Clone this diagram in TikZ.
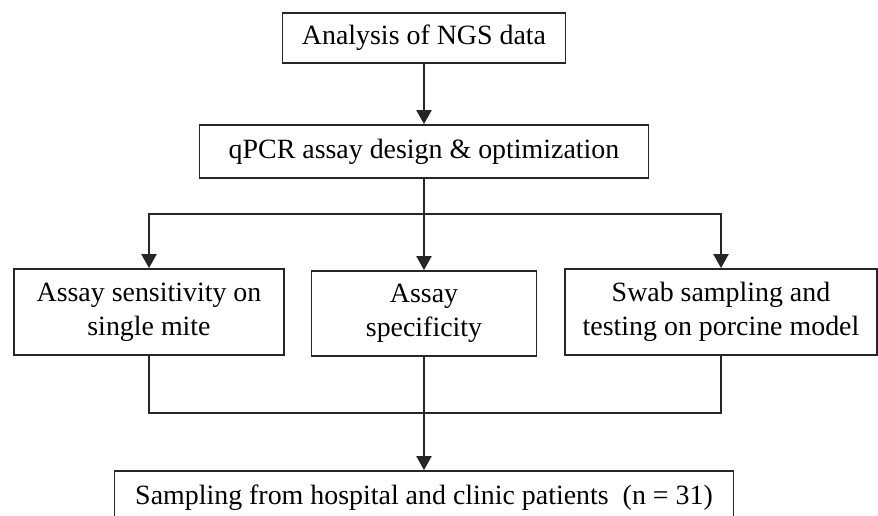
\documentclass[tikz,border=0pt]{standalone}
\usepackage{fontspec}
\setmainfont{Liberation Serif}
\usetikzlibrary{arrows.meta,positioning}

\begin{document}
\begin{tikzpicture}[x=1pt,y=1pt,
	box/.style={draw=black!85, line width=1.8pt, inner sep=0pt, align=center,
		font=\fontsize{27.9}{34}\selectfont},
	arr/.style={-{Triangle[width=15pt,length=14pt]}, line width=2.2pt, draw=black!85},
	wire/.style={line width=2.2pt, draw=black!85}]

	\useasboundingbox (0,0) rectangle (878,-515);
	\clip (0,0) rectangle (878,-515);

	\node[box, minimum width=283, minimum height=50] (ngs) at (424,-38) {Analysis of NGS data};
	\node[box, minimum width=449, minimum height=53] (design) at (424,-151.5) {qPCR assay design \& optimization};

	\node[box, minimum width=270, minimum height=86] (sens) at (149,-312) {Assay sensitivity on\\single mite};
	\node[box, minimum width=225, minimum height=85] (spec) at (424,-313.5) {Assay\\specificity};
	\node[box, minimum width=312, minimum height=86] (swab) at (721,-312) {Swab sampling and\\testing on porcine model};

	\node[box, minimum width=619, minimum height=53] (clinic) at (424,-497.5) {Sampling from hospital and clinic patients~~(n = 31)};

	\coordinate (split) at (424,-214);
	\coordinate (merge) at (424,-413);

	% top part
	\draw[arr] (ngs) -- (design);
	\draw[arr] (design) -- (spec);
	\draw[arr] (split) -| (sens.north);
	\draw[arr] (split) -| (swab.north);

	% joining the three tests
	\draw[wire] (sens.south) |- (merge);
	\draw[wire] (swab.south) |- (merge);
	\draw[arr] (spec.south) -- (clinic.north);

\end{tikzpicture}
\end{document}
